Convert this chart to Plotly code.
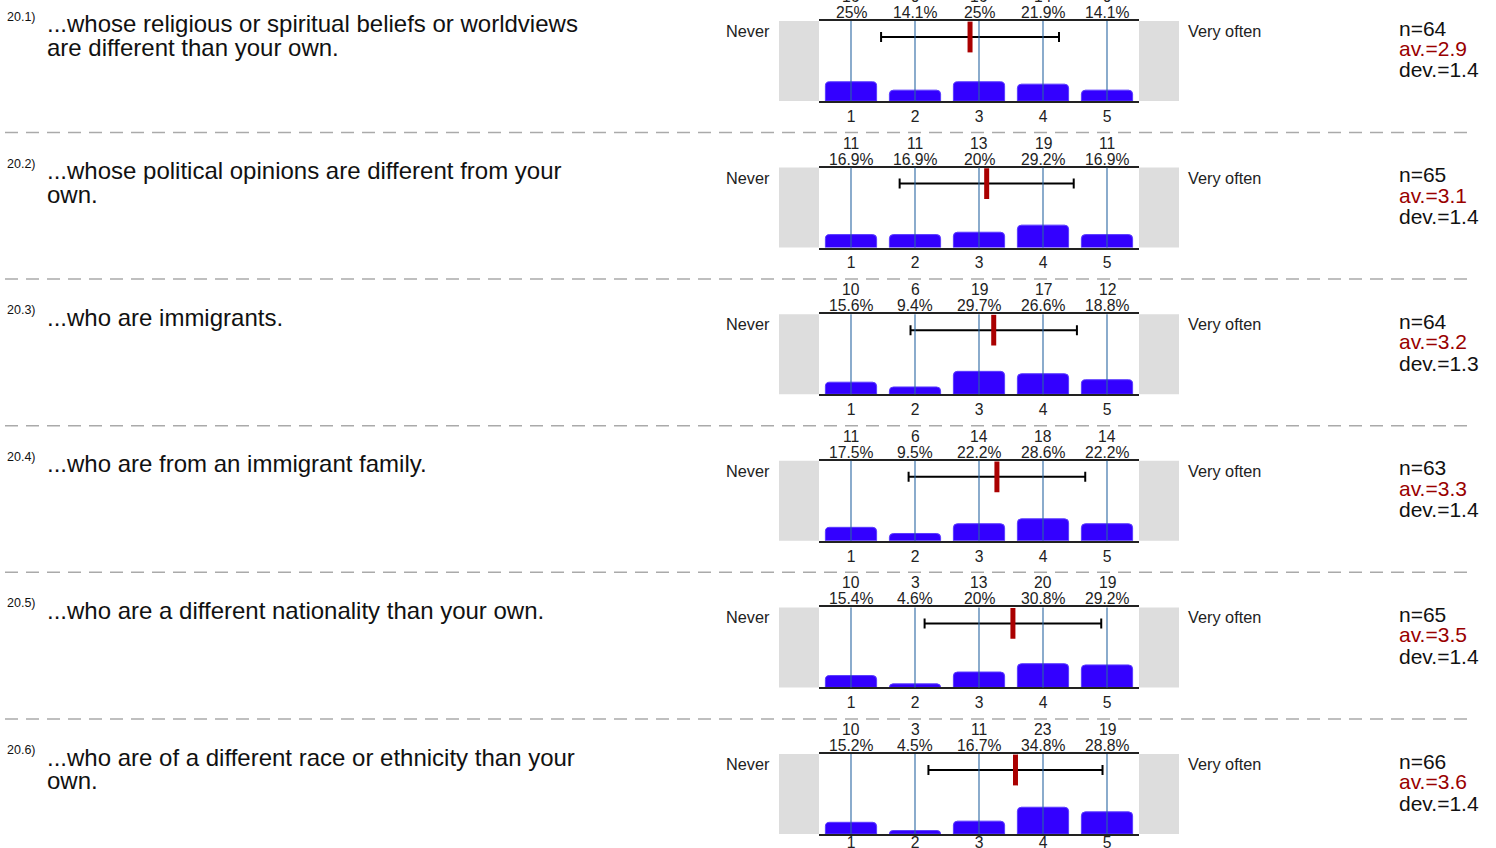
import plotly.graph_objects as go

W, H = 1496, 848
FONT = "Liberation Sans, Arial, sans-serif"

# data
item_ids = ["20.1)", "20.2)", "20.3)", "20.4)", "20.5)", "20.6)"]
questions = [
    "...whose religious or spiritual beliefs or worldviews<br>are different than your own.",
    "...whose political opinions are different from your<br>own.",
    "...who are immigrants.",
    "...who are from an immigrant family.",
    "...who are a different nationality than your own.",
    "...who are of a different race or ethnicity than your<br>own.",
]
scale = [1, 2, 3, 4, 5]
counts = [
    [16, 9, 16, 14, 9],
    [11, 11, 13, 19, 11],
    [10, 6, 19, 17, 12],
    [11, 6, 14, 18, 14],
    [10, 3, 13, 20, 19],
    [10, 3, 11, 23, 19],
]
percents = [
    [25, 14.1, 25, 21.9, 14.1],
    [16.9, 16.9, 20, 29.2, 16.9],
    [15.6, 9.4, 29.7, 26.6, 18.8],
    [17.5, 9.5, 22.2, 28.6, 22.2],
    [15.4, 4.6, 20, 30.8, 29.2],
    [15.2, 4.5, 16.7, 34.8, 28.8],
]
n_vals = [64, 65, 64, 63, 65, 66]
av_vals = [2.9, 3.1, 3.2, 3.3, 3.5, 3.6]
dev_vals = [1.4, 1.4, 1.3, 1.4, 1.4, 1.4]
means = [2.86, 3.12, 3.23, 3.28, 3.53, 3.57]
sds = [1.39, 1.36, 1.30, 1.38, 1.38, 1.36]
left_label = "Never"
right_label = "Very often"


def px_x(p):
    return p / W


def px_y(p):
    return 1 - p / H


fig = go.Figure()
shapes = []
annotations = []
layout_axes = {}

y_max = 104
bar_line_y = y_max * (1 - 16 / 80)
n_rows = len(questions)

for i in range(n_rows):
    k = "" if i == 0 else str(i + 1)
    top = 21 + 146.6 * i
    bottom = top + 80
    last = i == n_rows - 1

    layout_axes["xaxis" + k] = dict(
        domain=[px_x(819), px_x(1139)], anchor="y" + k, range=[0.5, 5.5],
        tickvals=scale, ticktext=[str(s) for s in scale], showgrid=False, zeroline=False,
        showline=True, mirror=True, linecolor="#222", linewidth=2,
        showticklabels=not last,
        tickfont=dict(size=15.7, color="#222", family=FONT), ticks="", fixedrange=True,
    )
    layout_axes["yaxis" + k] = dict(
        domain=[px_y(bottom), px_y(top)], anchor="x" + k, range=[0, y_max],
        visible=False, fixedrange=True,
    )

    fig.add_trace(go.Bar(
        x=scale, y=percents[i], xaxis="x" + k, yaxis="y" + k, width=0.8,
        marker=dict(color="#3300ff", line=dict(width=1, color="#5a3cff"), cornerradius=4),
        showlegend=False, hoverinfo="skip",
    ))
    # std deviation bar
    fig.add_trace(go.Scatter(
        x=[means[i]], y=[bar_line_y], xaxis="x" + k, yaxis="y" + k, mode="markers",
        marker=dict(size=1, color="black"),
        error_x=dict(type="data", array=[sds[i]], color="black", thickness=2, width=5),
        showlegend=False, hoverinfo="skip",
    ))
    # mean marker
    fig.add_trace(go.Scatter(
        x=[means[i]], y=[bar_line_y], xaxis="x" + k, yaxis="y" + k, mode="markers",
        marker=dict(symbol="line-ns-open", size=22, color="#aa0000",
                    line=dict(width=5, color="#aa0000")),
        showlegend=False, hoverinfo="skip",
    ))

    if last:
        # bottom tick labels of the last panel run off the page: draw them as
        # clipped text in a thin strip below the axis so nothing spills over
        strip = bottom
        layout_axes["yaxis%d" % (n_rows + 1)] = dict(
            domain=[0, px_y(strip)], anchor="x" + k, range=[-(H - strip), 0],
            visible=False, fixedrange=True,
        )
        fig.add_trace(go.Scatter(
            x=scale, y=[-10] * len(scale), xaxis="x" + k, yaxis="y%d" % (n_rows + 1),
            mode="text", text=[str(s) for s in scale], cliponaxis=True,
            textfont=dict(size=15.7, color="#222", family=FONT),
            showlegend=False, hoverinfo="skip",
        ))

    # side gray boxes
    for x0, x1 in [(779, 819), (1139, 1179)]:
        shapes.append(dict(type="rect", xref="paper", yref="paper",
                           x0=px_x(x0), x1=px_x(x1), y0=px_y(bottom), y1=px_y(top),
                           fillcolor="#dddddd", line=dict(width=0), layer="below"))
    # vertical lines over the bars
    for s in scale:
        shapes.append(dict(type="line", xref="x" + k, yref="y" + k + " domain",
                           x0=s, x1=s, y0=0, y1=1,
                           line=dict(color="#2b67a3", width=1.1), layer="above"))

    for s, c, p in zip(scale, counts[i], percents[i]):
        annotations.append(dict(x=s, xref="x" + k, y=px_y(top - 24.5), yref="paper",
                                text=str(c), showarrow=False, yanchor="middle",
                                font=dict(size=15.7, color="#222", family=FONT)))
        annotations.append(dict(x=s, xref="x" + k, y=px_y(top - 8.5), yref="paper",
                                text=f"{p:g}%", showarrow=False, yanchor="middle",
                                font=dict(size=15.7, color="#222", family=FONT)))

    annotations.append(dict(x=px_x(772), y=px_y(top + 10), xref="paper", yref="paper",
                            text=left_label, showarrow=False, xanchor="right", yanchor="middle",
                            font=dict(size=16.3, color="#222", family=FONT)))
    annotations.append(dict(x=px_x(1186), y=px_y(top + 10), xref="paper", yref="paper",
                            text=right_label, showarrow=False, xanchor="left", yanchor="middle",
                            font=dict(size=16.3, color="#222", family=FONT)))

    # question text
    annotations.append(dict(x=px_x(5), y=px_y(top - 4), xref="paper", yref="paper",
                            text=item_ids[i], showarrow=False, xanchor="left", yanchor="middle",
                            font=dict(size=12.5, color="#111", family=FONT)))
    for j, line in enumerate(questions[i].split("<br>")):
        annotations.append(dict(x=px_x(45), y=px_y(top + 3 + 23.5 * j), xref="paper", yref="paper",
                                text=line, showarrow=False, xanchor="left", yanchor="middle",
                                font=dict(size=24, color="#111", family=FONT)))

    # stats
    stats = [(f"n={n_vals[i]}", "#111", 7), (f"av.={av_vals[i]}", "#990000", 27.5),
             (f"dev.={dev_vals[i]}", "#111", 49)]
    for txt, col, dy in stats:
        annotations.append(dict(x=px_x(1397), y=px_y(top + dy), xref="paper", yref="paper",
                                text=txt, showarrow=False, xanchor="left", yanchor="middle",
                                font=dict(size=21, color=col, family=FONT)))

    if not last:
        yl = px_y(132.5 + 146.6 * i)
        shapes.append(dict(type="line", xref="paper", yref="paper",
                           x0=px_x(5), x1=px_x(1470), y0=yl, y1=yl,
                           line=dict(color="#aaaaaa", width=1.5, dash="13px,8px")))

fig.update_layout(
    width=W, height=H, margin=dict(l=0, r=0, t=0, b=0),
    paper_bgcolor="white", plot_bgcolor="rgba(0,0,0,0)",
    shapes=shapes, annotations=annotations, bargap=0.2,
    **layout_axes,
)

page_js = """
document.documentElement.style.overflow = 'hidden';
document.body.style.margin = '0';
document.body.style.overflow = 'hidden';
"""
fig.write_html("out.html", config={"displayModeBar": False}, post_script=page_js)
